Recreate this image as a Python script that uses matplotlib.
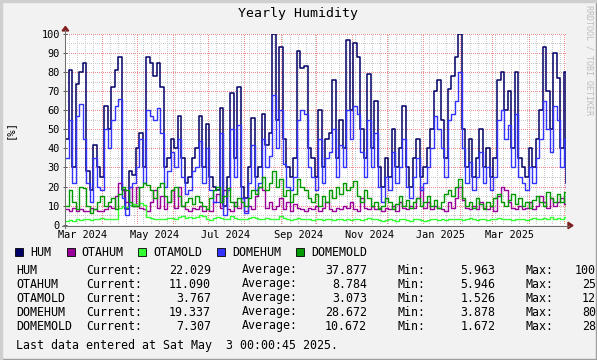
import numpy as np
import pandas as pd
import matplotlib
matplotlib.use("Agg")
import matplotlib.pyplot as plt
import matplotlib.dates as mdates
from matplotlib.patches import Rectangle, Polygon

# ---------------- data (3-day samples) ----------------
start_date = "2024-03-01"
end_date = "2025-05-03"
n_samples = 143

hum = [45, 81, 30, 74, 80, 85, 28, 18, 42, 30,
       25, 62, 50, 72, 81, 88, 18, 8, 28, 26,
       40, 48, 30, 88, 85, 78, 85, 72, 30, 35,
       45, 40, 57, 35, 22, 25, 35, 40, 57, 30,
       53, 25, 20, 18, 61, 10, 25, 69, 35, 72,
       20, 14, 30, 56, 25, 30, 58, 42, 48, 100,
       55, 93, 45, 30, 25, 35, 91, 82, 83, 40,
       35, 25, 60, 30, 45, 48, 76, 35, 55, 40,
       97, 60, 95, 88, 50, 35, 79, 40, 65, 30,
       20, 35, 25, 50, 30, 40, 62, 30, 20, 35,
       45, 25, 30, 40, 50, 70, 76, 55, 35, 71,
       78, 88, 100, 50, 30, 45, 25, 35, 50, 30,
       40, 25, 35, 76, 80, 60, 70, 40, 80, 35,
       30, 25, 40, 30, 45, 60, 93, 70, 50, 90,
       77, 40, 80]
hum_current = 22.029

otahum = [8, 7, 9, 7, 8, 7, 7, 9, 8, 7,
          7, 8, 10, 9, 15, 22, 18, 12, 20, 10,
          20, 9, 8, 7, 12, 18, 9, 15, 8, 12,
          18, 9, 20, 10, 8, 7, 9, 8, 10, 7,
          8, 7, 12, 16, 9, 18, 8, 7, 12, 9,
          14, 7, 10, 8, 15, 20, 18, 9, 12, 8,
          10, 14, 8, 12, 7, 11, 9, 8, 7, 9,
          8, 10, 7, 9, 12, 8, 7, 9, 8, 10,
          9, 12, 8, 7, 14, 9, 8, 10, 8, 9,
          7, 9, 8, 10, 7, 12, 9, 8, 10, 9,
          14, 20, 9, 12, 8, 10, 9, 8, 7, 12,
          9, 14, 20, 13, 9, 8, 10, 8, 12, 9,
          8, 10, 7, 15, 20, 18, 12, 9, 8, 10,
          8, 9, 12, 8, 10, 15, 12, 9, 14, 10,
          12, 14, 11]
otahum_current = 11.090

otamold = [2.0, 2.5, 2.2, 3.0, 2.5, 3.0, 2.8, 2.5, 3.2, 2.8,
           3.5, 3.0, 2.8, 3.2, 3.0, 9.0, 10.0, 9.5, 10.5, 11.0,
           10.0, 11.5, 10.5, 4.0, 3.5, 3.0, 2.8, 3.0, 3.2, 3.5,
           3.5, 3.0, 3.8, 4.5, 3.5, 4.0, 3.5, 3.8, 5.0, 4.5,
           3.0, 2.5, 3.5, 4.0, 3.5, 3.0, 2.8, 4.5, 3.5, 3.0,
           3.2, 2.8, 3.5, 4.0, 3.5, 3.0, 2.8, 3.5, 3.0, 2.8,
           3.0, 4.5, 3.5, 3.0, 2.5, 3.0, 3.5, 2.8, 3.2, 3.0,
           2.5, 2.8, 3.0, 2.5, 2.8, 3.2, 2.5, 3.0, 2.8, 2.5,
           3.0, 2.5, 2.8, 3.0, 2.5, 2.8, 3.5, 2.8, 3.0, 2.5,
           2.0, 2.5, 3.0, 2.5, 2.2, 2.8, 3.0, 2.5, 2.2, 2.8,
           3.0, 2.5, 2.0, 2.5, 3.0, 2.8, 2.5, 3.0, 2.5, 2.8,
           3.2, 3.0, 2.8, 2.5, 3.0, 3.5, 2.8, 2.5, 3.0, 2.8,
           2.5, 2.8, 3.0, 3.5, 3.0, 2.8, 3.2, 2.5, 2.8, 3.0,
           2.8, 2.5, 3.0, 3.5, 3.0, 2.8, 3.5, 3.0, 4.0, 3.2,
           3.5, 3.0, 4.0]
otamold_current = 3.767

domehum = [35, 55, 22, 57, 63, 45, 22, 12, 35, 20,
           18, 50, 40, 55, 62, 66, 14, 5, 20, 22,
           30, 45, 22, 60, 57, 55, 61, 48, 20, 28,
           38, 30, 45, 25, 16, 18, 28, 30, 44, 22,
           40, 18, 12, 12, 48, 5, 18, 50, 25, 52,
           14, 6, 22, 42, 18, 22, 45, 30, 36, 68,
           40, 60, 32, 20, 18, 25, 55, 60, 58, 30,
           25, 18, 45, 22, 35, 38, 50, 25, 42, 30,
           60, 45, 62, 58, 38, 25, 55, 30, 48, 20,
           12, 25, 18, 38, 22, 30, 45, 20, 14, 25,
           35, 18, 22, 30, 40, 57, 50, 40, 25, 55,
           58, 65, 80, 40, 22, 33, 18, 25, 38, 22,
           30, 18, 25, 55, 60, 45, 52, 30, 58, 25,
           22, 18, 30, 22, 35, 45, 65, 50, 38, 62,
           55, 30, 45]
domehum_current = 19.337

domemold = [10, 18, 12, 8, 20, 19, 10, 6, 8, 12,
            15, 10, 12, 14, 8, 16, 20, 18, 12, 10,
            10, 20, 22, 21, 18, 14, 20, 22, 15, 12,
            18, 20, 15, 10, 12, 14, 11, 15, 12, 10,
            8, 14, 18, 20, 12, 15, 19, 12, 10, 14,
            12, 10, 14, 18, 16, 20, 25, 18, 22, 28,
            20, 24, 15, 18, 12, 16, 24, 20, 18, 14,
            12, 16, 10, 15, 12, 18, 14, 20, 16, 22,
            18, 20, 23, 15, 12, 18, 14, 10, 12, 8,
            10, 14, 12, 8, 11, 15, 10, 13, 9, 12,
            14, 10, 12, 15, 10, 13, 9, 12, 16, 18,
            15, 20, 24, 14, 10, 12, 9, 14, 11, 8,
            12, 10, 14, 16, 12, 10, 13, 16, 11, 14,
            10, 12, 9, 13, 15, 12, 10, 17, 14, 12,
            16, 12, 17]
domemold_current = 7.307

series_names = ["HUM", "OTAHUM", "OTAMOLD", "DOMEHUM", "DOMEMOLD"]
series_colors = ["#000066", "#990099", "#33FF33", "#3333FF", "#009900"]
stat_current = ["22.029", "11.090", "3.767", "19.337", "7.307"]
stat_average = ["37.877", "8.784", "3.073", "28.672", "10.672"]
stat_min = ["5.963", "5.946", "1.526", "3.878", "1.672"]
stat_max = ["100", "25", "12", "80", "28"]

month_labels = ["Mar 2024", "May 2024", "Jul 2024", "Sep 2024",
                "Nov 2024", "Jan 2025", "Mar 2025"]
month_label_dates = ["2024-03-16", "2024-05-16", "2024-07-16", "2024-09-16",
                     "2024-11-16", "2025-01-16", "2025-03-16"]
y_ticks = [0, 10, 20, 30, 40, 50, 60, 70, 80, 90, 100]
y_minor = [5, 15, 25, 35, 45, 55, 65, 75, 85, 95]

title = "Yearly Humidity"
y_label = "[%]"
footer = "Last data entered at Sat May  3 00:00:45 2025."
watermark = "RRDTOOL / TOBI OETIKER"

# ---------------- figure ----------------
W, H = 597, 360
MONO = "DejaVu Sans Mono"
BG = "#F2F2F2"

fig = plt.figure(figsize=(W / 100, H / 100), dpi=100, facecolor=BG)


def fx(x):
    return x / W


def fy(y):
    return 1 - y / H


def ptext(x, y, s, ha="left", va="center", size=8.4, **kw):
    fig.text(fx(x), fy(y), s, ha=ha, va=va, fontsize=size, family=MONO, **kw)


# plot area in pixels
L, R, T, B = 65.4, 566.0, 33.9, 224.7
ax = fig.add_axes([fx(L), fy(B), (R - L) / W, (B - T) / H])
ax.set_facecolor("white")

dates = pd.date_range(start_date, periods=n_samples, freq="3D")
end = pd.Timestamp(end_date)
xs = list(dates) + [end]
ax.set_xlim(pd.Timestamp(start_date), end)
ax.set_ylim(0, 100)

# grid lines (drawn explicitly: weeks / 5 % minor, months / 10 % major)
minor_col = "#CACACA"
major_col = "#EC8C8C"
dot = (0, (1, 1.5))
week_lines = pd.date_range(start_date, end_date, freq="W-MON")
month_lines = pd.date_range(start_date, end_date, freq="MS")
for d in week_lines:
    if d.day != 1:
        ax.axvline(d, color=minor_col, lw=0.72, ls=dot, antialiased=False, zorder=1)
for v in y_minor:
    ax.axhline(v, color=minor_col, lw=0.72, ls=dot, antialiased=False, zorder=1)
for d in month_lines:
    ax.axvline(d, color=major_col, lw=0.72, ls=dot, antialiased=False, zorder=1.5)
for v in y_ticks:
    ax.axhline(v, color=major_col, lw=0.72, ls=dot, antialiased=False, zorder=1.5)

all_series = [(hum, hum_current), (otahum, otahum_current), (otamold, otamold_current),
              (domehum, domehum_current), (domemold, domemold_current)]
widths = [1.1, 1.0, 1.0, 1.0, 1.0]
for (vals, cur), col, lw in zip(all_series, series_colors, widths):
    ax.step(xs, list(vals) + [cur], where="post", color=col, lw=lw, zorder=3)

ax.set_xticks([])
ax.set_yticks(y_ticks)
ax.set_yticklabels([str(v) for v in y_ticks], family=MONO, fontsize=7.4)
ax.tick_params(axis="y", which="major", direction="inout", length=3, width=0.7,
               color="#555555", pad=2.6)
for sp in ax.spines.values():
    sp.set_visible(False)

for lab, d in zip(month_labels, month_label_dates):
    ax.text(mdates.date2num(pd.Timestamp(d)), -0.055, lab, transform=ax.get_xaxis_transform(),
            ha="center", va="center", fontsize=7.4, family=MONO)

# axes lines with arrows
axis_col = "#6F6F6F"
arrow_col = "#7F1F1F"
fig.add_artist(plt.Line2D([fx(L), fx(L)], [fy(B + 3), fy(T - 4)], color=axis_col, lw=0.75,
                          transform=fig.transFigure))
fig.add_artist(plt.Line2D([fx(L - 3), fx(R + 3)], [fy(B + 0.8), fy(B + 0.8)], color=axis_col,
                          lw=0.75, transform=fig.transFigure))
fig.add_artist(Polygon([[fx(L - 3.3), fy(T - 3)], [fx(L + 3.3), fy(T - 3)], [fx(L), fy(T - 7.5)]],
                       closed=True, color=arrow_col, transform=fig.transFigure))
fig.add_artist(Polygon([[fx(R + 2), fy(B - 2.5)], [fx(R + 2), fy(B + 4)], [fx(R + 7), fy(B + 0.8)]],
                       closed=True, color=arrow_col, transform=fig.transFigure))

# titles
ptext(W / 2, 14, title, ha="center", size=9.5)
fig.text(fx(10), fy(129), y_label, rotation=90, ha="center", va="center",
         fontsize=7.6, family=MONO)
fig.text(fx(589.5), fy(60), watermark, rotation=270, ha="center", va="center",
         fontsize=6, family=MONO, color="#BDBDBD")

# legend
sq_x = [15, 67, 138, 217, 296]
txt_x = [30.5, 81, 153, 232, 311]
for name, col, sx, tx in zip(series_names, series_colors, sq_x, txt_x):
    fig.add_artist(Rectangle((fx(sx), fy(256)), 8 / W, 8 / H, facecolor=col,
                             edgecolor="black", lw=0.6, transform=fig.transFigure))
    ptext(tx, 252.5, name)

row_y = [270, 284, 298, 312, 326]
for i, name in enumerate(series_names):
    y = row_y[i]
    ptext(16, y, name)
    ptext(86.5, y, "Current:")
    ptext(211, y, stat_current[i], ha="right")
    ptext(242, y, "Average:")
    ptext(367, y, stat_average[i], ha="right")
    ptext(398, y, "Min:")
    ptext(495.5, y, stat_min[i], ha="right")
    ptext(526, y, "Max:")
    ptext(575 + (3 - len(stat_max[i])) * 7.05, y, stat_max[i])

ptext(16, 346, footer)

# frame shading
fig.add_artist(Rectangle((0, 0), 1, 1.5 / H, color="#9E9E9E", transform=fig.transFigure))
fig.add_artist(Rectangle((1 - 1.5 / W, 0), 1.5 / W, 1, color="#9E9E9E", transform=fig.transFigure))
fig.add_artist(Rectangle((0, 1 - 1.5 / H), 1, 1.5 / H, color="#CFCFCF", transform=fig.transFigure))
fig.add_artist(Rectangle((0, 0), 1.5 / W, 1, color="#CFCFCF", transform=fig.transFigure))

fig.savefig("out.png", dpi=100, facecolor=BG)
